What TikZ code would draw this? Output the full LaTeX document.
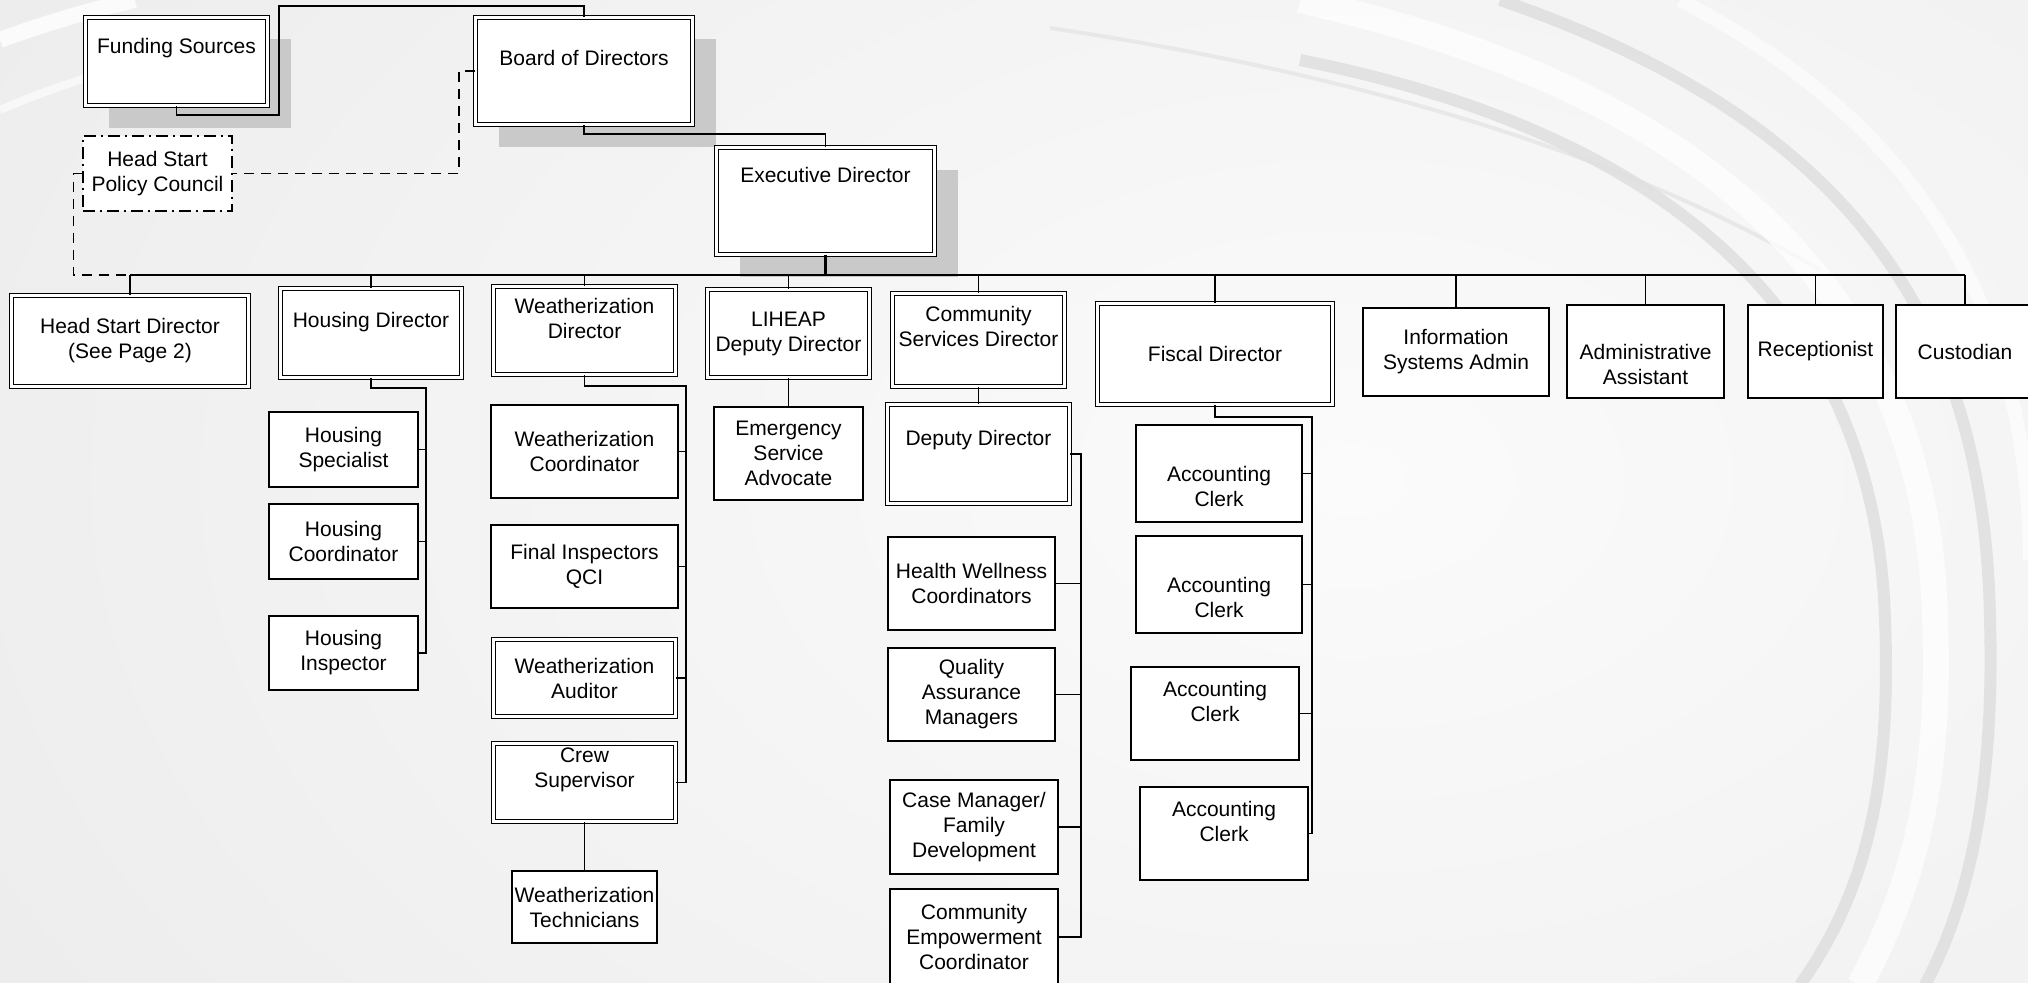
\documentclass[tikz,border=0pt]{standalone}
\usepackage{fontspec}
\setmainfont{Liberation Sans}
\usetikzlibrary{calc,shadows}
\definecolor{bgside}{HTML}{E6E6E6}
\definecolor{bglight}{HTML}{FBFBFB}
\definecolor{swgray}{HTML}{E0E0E0}
\definecolor{shgray}{HTML}{C9C9C9}
\newcommand{\orgfont}{\fontsize{21}{25}\selectfont}

\begin{document}
\begin{tikzpicture}[x=1pt, y=-1pt,
  box/.style={draw, fill=white, line width=1.4pt, inner sep=2pt, align=center, font=\orgfont},
  dbox/.style={box, double, double distance=2.4pt, line width=1.1pt},
  shbox/.style={dbox, drop shadow={shadow xshift=23pt, shadow yshift=-22pt, fill=shgray, opacity=1}},
  pbox/.style={box, dash pattern=on 12pt off 5pt on 2pt off 5pt},
  txt/.style={align=center, font=\orgfont, inner sep=1pt},
  link/.style={line width=1.6pt},
  dline/.style={line width=1.5pt, dash pattern=on 10pt off 7pt}]
\useasboundingbox (0,0) rectangle (2028,982);

% background with swooshes
\begin{scope}
\clip (0,0) rectangle (2028,982);
\fill[bgside] (0,0) rectangle (2028,982);
\shade[inner color=bglight, outer color=bgside] (1350,480) ellipse [x radius=2300, y radius=1500];
\draw[white, line width=16pt, opacity=.8] (0,40) .. controls (40,25) and (90,10) .. (135,0);
\draw[white, line width=8pt, opacity=.6] (0,110) .. controls (30,97) and (60,86) .. (95,75);
\draw[swgray, line width=4pt, opacity=.6] (1050,28) .. controls (1400,80) and (1650,170) .. (1820,270);
\draw[swgray, line width=12pt, opacity=.9] (1300,60) .. controls (1650,130) and (1875,300) .. (1885,620) .. controls (1892,800) and (1860,900) .. (1800,985);
\draw[white, line width=26pt, opacity=.7] (1300,0) .. controls (1700,90) and (1928,290) .. (1935,620) .. controls (1942,800) and (1905,900) .. (1860,985);
\draw[swgray, line width=12pt, opacity=.9] (1500,0) .. controls (1850,120) and (1985,320) .. (1990,620) .. controls (1995,800) and (1965,910) .. (1925,985);
\draw[white, line width=14pt, opacity=.6] (1680,0) .. controls (1930,130) and (2028,320) .. (2030,560);
\end{scope}

% top of the chart
\node[shbox, minimum width=182, minimum height=88] (fund) at (176.5,61.5) {};
\node[txt] (fund-t) at ([yshift=13pt]fund.center) {Funding Sources};
\node[shbox, minimum width=217, minimum height=107] (board) at (584,71) {};
\node[txt] (board-t) at ([yshift=13pt]board.center) {Board of Directors};
\node[shbox, minimum width=218, minimum height=107] (exec) at (825.5,201) {};
\node[txt] (exec-t) at ([yshift=26pt]exec.center) {Executive Director};
\node[pbox, minimum width=149, minimum height=75] (policy) at (157.5,173.5) {Head Start\\Policy Council};

% directors
\node[dbox, minimum width=237, minimum height=91] (hsd) at (130,341) {Head Start Director\\(See Page 2)};
\node[dbox, minimum width=181, minimum height=89] (housdir) at (371,333) {};
\node[txt] (housdir-t) at ([yshift=11pt]housdir.center) {Housing Director};
\node[dbox, minimum width=182, minimum height=88] (wzdir) at (584.5,330.5) {};
\node[txt] (wzdir-t) at ([yshift=12.5pt]wzdir.center) {Weatherization\\Director};
\node[dbox, minimum width=162, minimum height=88] (liheap) at (788.5,333.5) {LIHEAP\\Deputy Director};
\node[dbox, minimum width=172, minimum height=93] (csd) at (978.5,340) {};
\node[txt] (csd-t) at ([yshift=13.5pt]csd.center) {Community\\Services Director};
\node[dbox, minimum width=235, minimum height=101] (fiscal) at (1215,354) {Fiscal Director};
\node[box, minimum width=186, minimum height=88] (isa) at (1456,352) {Information\\Systems Admin};
\node[box, minimum width=157, minimum height=93] (aa) at (1645.5,351.5) {};
\node[txt] (aa-t) at ([yshift=-12.5pt]aa.center) {Administrative\\Assistant};
\node[box, minimum width=135, minimum height=93] (recep) at (1815.5,351.5) {Receptionist};
\node[box, minimum width=138, minimum height=93] (cust) at (1965,351.5) {Custodian};

% housing
\node[box, minimum width=149, minimum height=75] (hspec) at (343.5,449.5) {Housing\\Specialist};
\node[box, minimum width=149, minimum height=75] (hcoord) at (343.5,541.5) {Housing\\Coordinator};
\node[box, minimum width=149, minimum height=74] (hinsp) at (343.5,653) {Housing\\Inspector};

% weatherization
\node[box, minimum width=187, minimum height=93] (wzcoord) at (584.5,451.5) {Weatherization\\Coordinator};
\node[box, minimum width=187, minimum height=83] (wzfinal) at (584.5,566.5) {Final Inspectors\\QCI};
\node[dbox, minimum width=182, minimum height=77] (wzaud) at (584.5,678) {Weatherization\\Auditor};
\node[dbox, minimum width=182, minimum height=78] (wzcrew) at (584.5,782.5) {};
\node[txt] (wzcrew-t) at ([yshift=13pt]wzcrew.center) {Crew\\Supervisor};
\node[box, minimum width=145, minimum height=72] (wztech) at (584.5,907) {Weatherization\\Technicians};

% liheap
\node[box, minimum width=149, minimum height=93] (emerg) at (788.5,453.5) {Emergency\\Service\\Advocate};

% community services
\node[dbox, minimum width=182, minimum height=99] (deputy) at (978.5,454) {};
\node[txt] (deputy-t) at ([yshift=14pt]deputy.center) {Deputy Director};
\node[box, minimum width=167, minimum height=93] (health) at (971.5,583.5) {Health Wellness\\Coordinators};
\node[box, minimum width=167, minimum height=93] (qa) at (971.5,694.5) {Quality\\Assurance\\Managers};
\node[box, minimum width=168, minimum height=94] (casem) at (974,827) {Case Manager/\\Family\\Development};
\node[box, minimum width=168, minimum height=96] (cemp) at (974,937) {Community\\Empowerment\\Coordinator};

% fiscal
\node[box, minimum width=166, minimum height=97] (acc1) at (1219,473.5) {};
\node[txt] (acc1-t) at ([yshift=-12.5pt]acc1.center) {Accounting\\Clerk};
\node[box, minimum width=166, minimum height=97] (acc2) at (1219,584.5) {};
\node[txt] (acc2-t) at ([yshift=-12.5pt]acc2.center) {Accounting\\Clerk};
\node[box, minimum width=168, minimum height=93] (acc3) at (1215,713.5) {};
\node[txt] (acc3-t) at ([yshift=12.5pt]acc3.center) {Accounting\\Clerk};
\node[box, minimum width=168, minimum height=93] (acc4) at (1224,833.5) {};
\node[txt] (acc4-t) at ([yshift=12pt]acc4.center) {Accounting\\Clerk};

% connectors
\coordinate (bus) at (825.5,275);
\draw[link] (fund.south) -- ++(0,9) -| (279,6) -| (board.north);
\draw[link] (board.south) -- ++(0,9) -| (exec.north);
\draw[line width=2.6pt] (exec.south) -- (bus);
\draw[line width=2.1pt] (hsd.north |- bus) -- (cust.north |- bus);
\foreach \n in {hsd,housdir,wzdir,liheap,csd,fiscal,isa,aa,recep,cust}
  \draw[link] (\n.north) -- (\n.north |- bus);
\draw[dline] (board.west) -- ++(-16,0) |- (policy.east);
\draw[dline] (policy.west) -- ++(-9,0) |- (hsd.north |- bus);

\coordinate (hspine) at (426,388);
\draw[link] (housdir.south) |- (hspine) |- (hinsp.east);
\foreach \n in {hspec,hcoord}
  \draw[link] (\n.east) -- (\n.east -| hspine);

\coordinate (wspine) at (686,386);
\draw[link] (wzdir.south) |- (wspine) |- (wzcrew.east);
\foreach \n in {wzcoord,wzfinal,wzaud}
  \draw[link] (\n.east) -- (\n.east -| wspine);
\draw[link] (wzcrew.south) -- (wztech.north);

\draw[link] (liheap.south) -- (emerg.north);

\draw[link] (csd.south) -- (deputy.north);
\coordinate (dspine) at (1081,454);
\draw[link] (deputy.east) -- (dspine) |- (cemp.east);
\foreach \n in {health,qa,casem}
  \draw[link] (\n.east) -- (\n.east -| dspine);

\coordinate (fspine) at (1312,417);
\draw[link] (fiscal.south) |- (fspine) |- (acc4.east);
\foreach \n in {acc1,acc2,acc3}
  \draw[link] (\n.east) -- (\n.east -| fspine);
\end{tikzpicture}
\end{document}
